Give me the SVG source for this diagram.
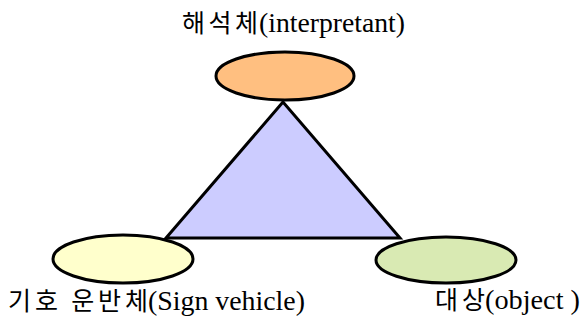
<svg xmlns="http://www.w3.org/2000/svg" width="582" height="320" viewBox="0 0 582 320">
<style>
.ko{font-family:"Noto Sans CJK KR","Liberation Serif",sans-serif;font-size:25px;fill:#000}
.la{font-family:"Liberation Serif","Noto Sans CJK KR",serif;font-size:27px;fill:#000}
.node{stroke:#000;stroke-width:3}
</style>
<rect width="582" height="320" fill="#fff"/>
<g id="connectors">
<polygon points="283,102 166,238 400,238" fill="#ccccff" stroke="#000" stroke-width="3" stroke-linejoin="miter"/>
</g>
<g id="interpretant">
<ellipse class="node" cx="285" cy="76" rx="69" ry="24" fill="#ffbf80"/>
<text class="ko" x="182" y="32" textLength="76" lengthAdjust="spacing">해석체</text>
<text class="la" x="259" y="32" textLength="146" lengthAdjust="spacingAndGlyphs">(interpretant)</text>
</g>
<g id="sign-vehicle">
<ellipse class="node" cx="123" cy="259" rx="70" ry="24" fill="#ffffcc"/>
<text class="ko" x="8" y="310" textLength="140" lengthAdjust="spacing">기호 운반체</text>
<text class="la" x="148" y="310" textLength="157" lengthAdjust="spacingAndGlyphs">(Sign vehicle)</text>
</g>
<g id="object">
<ellipse class="node" cx="446" cy="260" rx="70" ry="23" fill="#d9eab3"/>
<text class="ko" x="435" y="309" textLength="50" lengthAdjust="spacing">대상</text>
<text class="la" x="485" y="309" textLength="95" lengthAdjust="spacingAndGlyphs">(object )</text>
</g>
</svg>
